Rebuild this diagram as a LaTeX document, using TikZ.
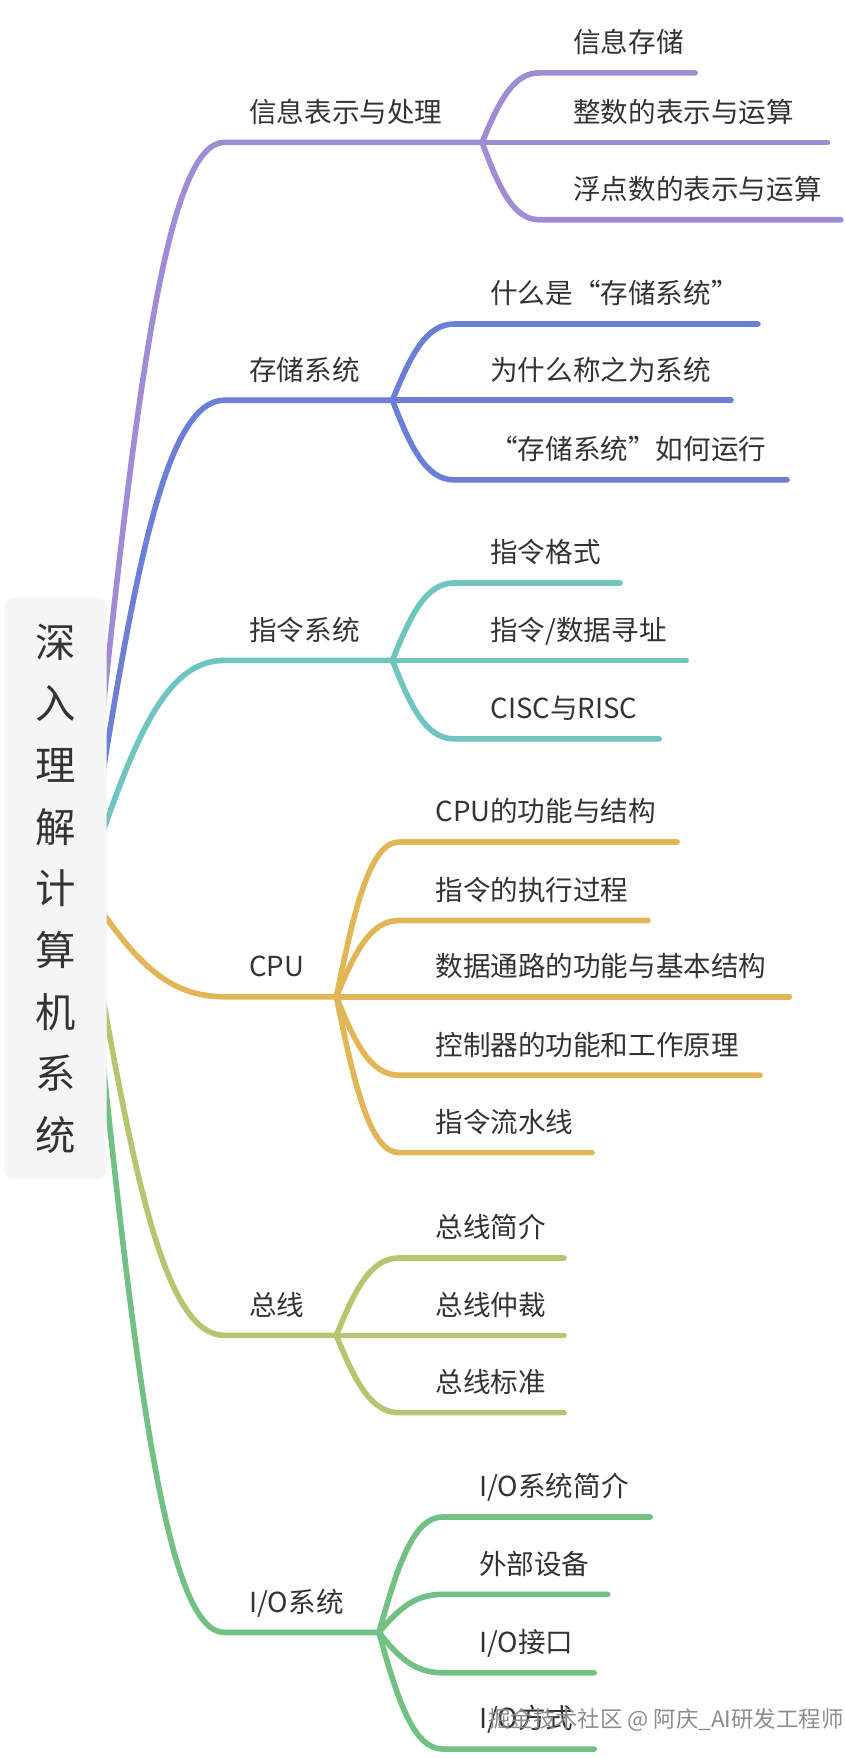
\documentclass[tikz,border=0pt]{standalone}
\usepackage{fontspec}
\setmainfont{Noto Sans CJK SC}
\usetikzlibrary{calc}
\definecolor{txtgray}{HTML}{333333}
\definecolor{rootgray}{HTML}{F5F5F5}
\definecolor{wmgray}{HTML}{8C8C8C}
\definecolor{bpurple}{HTML}{A08BD5}
\definecolor{bblue}{HTML}{6C7FD6}
\definecolor{bteal}{HTML}{6EC6BE}
\definecolor{borange}{HTML}{E2B656}
\definecolor{bolive}{HTML}{B4C670}
\definecolor{bgreen}{HTML}{72C084}
\tikzset{
  topic/.style={anchor=base west, inner sep=0pt, text=txtgray, font=\fontsize{12.3pt}{14pt}\selectfont},
  rootbox/.style={fill=rootgray, rounded corners=4pt, minimum width=45.5pt, minimum height=259.5pt,
    align=center, inner sep=0pt, text=txtgray, font=\fontsize{18pt}{27.5pt}\selectfont},
  branch/.style={to path={let \p1=(\tikztostart), \p2=(\tikztotarget) in
    .. controls ({\x1+0.3*(\x2-\x1)},{\y1+0.6*(\y2-\y1)}) and ({\x1+0.55*(\x2-\x1)},\y2) .. (\tikztotarget)}},
  limb/.style={draw=#1, line width=2.5pt, line cap=round, line join=round}
}
\begin{document}
\begin{tikzpicture}[x={(0.5pt,0)}, y={(0,-0.5pt)}]
  \useasboundingbox (0,0) rectangle (753,1568);

  % 信息表示与处理
  \coordinate (r1) at (90,650);
  \coordinate (h1) at (200,127);
  \coordinate (j1) at (430,127);
  \node[topic] (t1) at (222,109) {信息表示与处理};
  \draw[limb=bpurple] (r1) to[branch] (h1) -- (j1);
  \node[topic] (a1) at (511,47) {信息存储};
  \node[topic] (a2) at (511,109) {整数的表示与运算};
  \node[topic] (a3) at (511,178) {浮点数的表示与运算};
  \draw[limb=bpurple] (j1) to[branch] (481,65) -- (620,65);
  \draw[limb=bpurple] (j1) -- (738,127);
  \draw[limb=bpurple] (j1) to[branch] (481,196) -- (750,196);

  % 存储系统
  \coordinate (r2) at (90,700);
  \coordinate (h2) at (200,357);
  \coordinate (j2) at (350,357);
  \node[topic] (t2) at (222,339) {存储系统};
  \draw[limb=bblue] (r2) to[branch] (h2) -- (j2);
  \node[topic] (b1) at (437,271) {什么是“存储系统”};
  \node[topic] (b2) at (437,339) {为什么称之为系统};
  \node[topic] (b3) at (437,410) {“存储系统”如何运行};
  \draw[limb=bblue] (j2) to[branch] (405,289) -- (676,289);
  \draw[limb=bblue] (j2) -- (652,357);
  \draw[limb=bblue] (j2) to[branch] (405,428) -- (702,428);

  % 指令系统
  \coordinate (r3) at (90,747);
  \coordinate (h3) at (200,589);
  \coordinate (j3) at (350,589);
  \node[topic] (t3) at (222,571) {指令系统};
  \draw[limb=bteal] (r3) to[branch] (h3) -- (j3);
  \node[topic] (c1) at (437,502) {指令格式};
  \node[topic] (c2) at (437,571) {指令/数据寻址};
  \node[topic] (c3) at (437,641) {CISC与RISC};
  \draw[limb=bteal] (j3) to[branch] (405,520) -- (553,520);
  \draw[limb=bteal] (j3) -- (612,589);
  \draw[limb=bteal] (j3) to[branch] (405,659) -- (588,659);

  % CPU
  \coordinate (r4) at (90,812);
  \coordinate (h4) at (200,889);
  \coordinate (j4) at (300,889);
  \node[topic] (t4) at (222,871) {CPU};
  \draw[limb=borange] (r4) to[branch] (h4) -- (j4);
  \node[topic] (d1) at (388,733) {CPU的功能与结构};
  \node[topic] (d2) at (388,803) {指令的执行过程};
  \node[topic] (d3) at (388,871) {数据通路的功能与基本结构};
  \node[topic] (d4) at (388,941) {控制器的功能和工作原理};
  \node[topic] (d5) at (388,1010) {指令流水线};
  \draw[limb=borange] (j4) to[branch] (356,751) -- (604,751);
  \draw[limb=borange] (j4) to[branch] (356,821) -- (578,821);
  \draw[limb=borange] (j4) -- (704,889);
  \draw[limb=borange] (j4) to[branch] (356,959) -- (678,959);
  \draw[limb=borange] (j4) to[branch] (356,1028) -- (528,1028);

  % 总线
  \coordinate (r5) at (90,880);
  \coordinate (h5) at (200,1191);
  \coordinate (j5) at (300,1191);
  \node[topic] (t5) at (222,1173) {总线};
  \draw[limb=bolive] (r5) to[branch] (h5) -- (j5);
  \node[topic] (e1) at (388,1104) {总线简介};
  \node[topic] (e2) at (388,1173) {总线仲裁};
  \node[topic] (e3) at (388,1242) {总线标准};
  \draw[limb=bolive] (j5) to[branch] (356,1122) -- (503,1122);
  \draw[limb=bolive] (j5) -- (503,1191);
  \draw[limb=bolive] (j5) to[branch] (356,1260) -- (503,1260);

  % I/O系统
  \coordinate (r6) at (90,930);
  \coordinate (h6) at (200,1456);
  \coordinate (j6) at (338,1456);
  \node[topic] (t6) at (222,1438) {I/O系统};
  \draw[limb=bgreen] (r6) to[branch] (h6) -- (j6);
  \node[topic] (f1) at (427,1335) {I/O系统简介};
  \node[topic] (f2) at (427,1404) {外部设备};
  \node[topic] (f3) at (427,1474) {I/O接口};
  \node[topic] (f4) at (427,1542) {I/O方式};
  \draw[limb=bgreen] (j6) to[branch] (395,1353) -- (580,1353);
  \draw[limb=bgreen] (j6) to[branch] (395,1422) -- (542,1422);
  \draw[limb=bgreen] (j6) to[branch] (395,1492) -- (530,1492);
  \draw[limb=bgreen] (j6) to[branch] (395,1560) -- (530,1560);

  % root
  \node[rootbox] (root) at (49.5,792.5) {深\\入\\理\\解\\计\\算\\机\\系\\统};

  \node[anchor=base west, inner sep=0pt, text=wmgray, font=\fontsize{10pt}{12pt}\selectfont] (wm) at (435,1541) {掘金技术社区 @ 阿庆\_AI研发工程师};
\end{tikzpicture}
\end{document}
